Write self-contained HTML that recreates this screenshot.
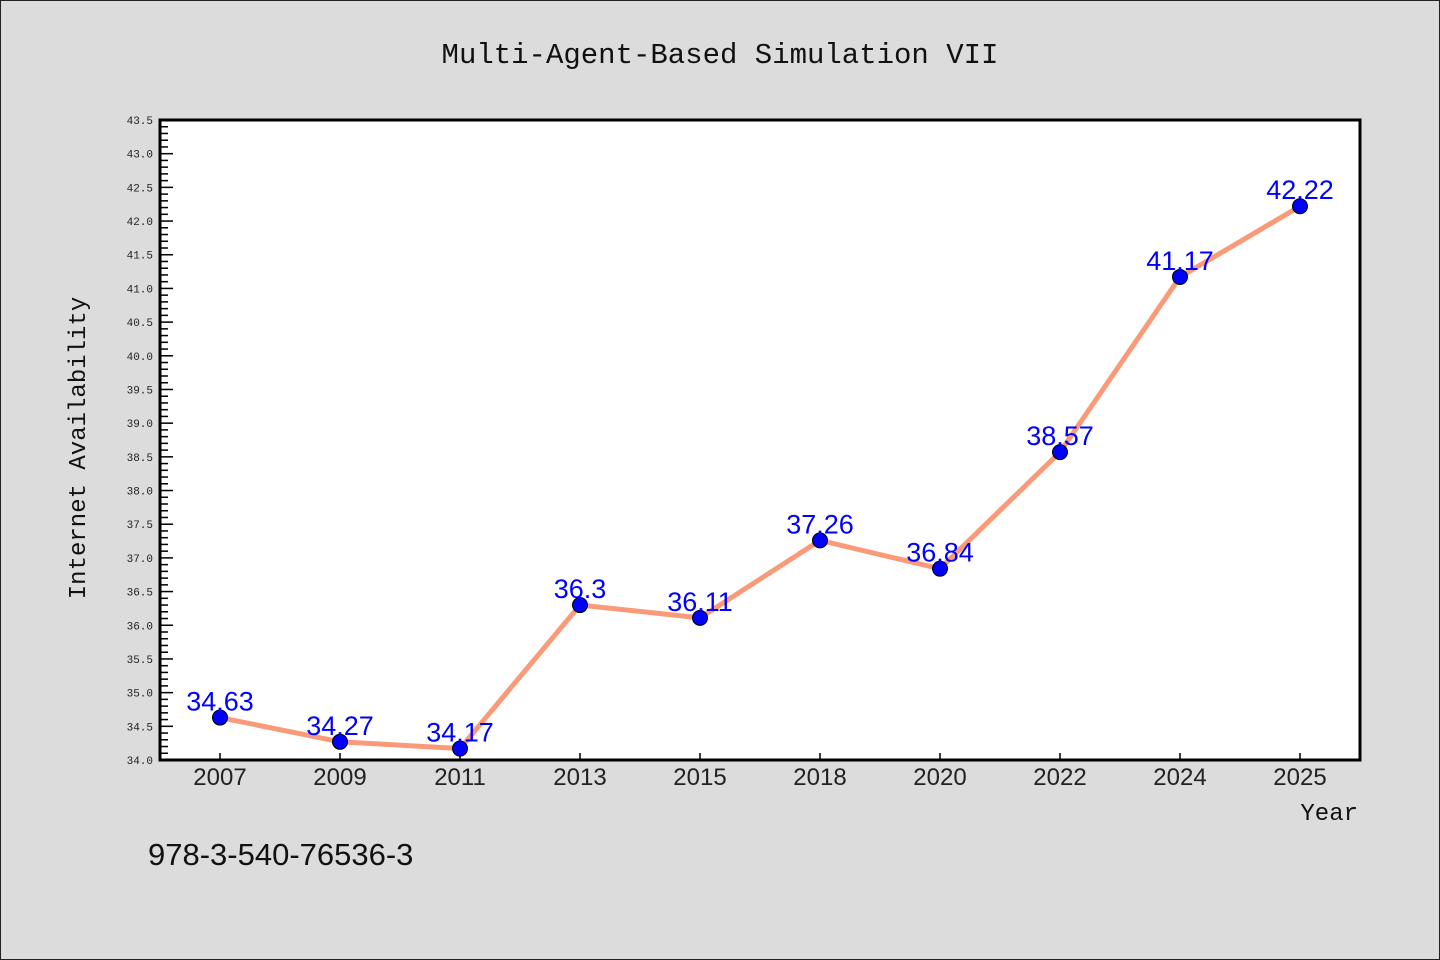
<!DOCTYPE html>
<html><head><meta charset="utf-8"><style>
body{margin:0;background:#dcdcdc}
svg{display:block}
text{font-family:"Liberation Mono","DejaVu Sans Mono",monospace}
</style></head><body>
<svg id="c" width="1440" height="960" xmlns="http://www.w3.org/2000/svg">
<rect x="0.5" y="0.5" width="1439" height="959" fill="#dcdcdc" stroke="#222"/>
<text x="720" y="63" text-anchor="middle" font-size="29" fill="#111">Multi-Agent-Based Simulation VII</text>
<rect x="160" y="120" width="1200" height="640" fill="#fff"/>
<g id="ticks"></g>
<g id="series"></g>
<rect x="160" y="120" width="1200" height="640" fill="none" stroke="#000" stroke-width="3"/>
<text transform="translate(85,448) rotate(-90)" text-anchor="middle" font-size="24" fill="#111">Internet Availability</text>
<text x="1358" y="820" text-anchor="end" font-size="24" fill="#111">Year</text>
<text x="148" y="865" font-family="Liberation Sans,sans-serif" font-size="31" fill="#111" style="font-family:'Liberation Sans',sans-serif">978-3-540-76536-3</text>
</svg>
<script>
const categories=["2007","2009","2011","2013","2015","2018","2020","2022","2024","2025"];
const values=[34.63,34.27,34.17,36.3,36.11,37.26,36.84,38.57,41.17,42.22];
const yMin=34.0,yMax=43.5;
const NS="http://www.w3.org/2000/svg";
const X0=160,W=1200,Y0=120,H=640;
function xs(i){return X0+60+i*120;}
function ys(v){return Y0+H-(v-yMin)/(yMax-yMin)*H;}
function mk(tag,attrs,parent){const e=document.createElementNS(NS,tag);for(const k in attrs)e.setAttribute(k,attrs[k]);parent.appendChild(e);return e;}
const tg=document.getElementById('ticks');
for(let k=0;k<=95;k++){
  const v=yMin+k*0.1;const y=ys(v);const major=k%5===0;
  const t=mk('line',{x1:160,x2:160+(major?13:8),y1:y,y2:y,stroke:'#000','stroke-width':1.5},tg);
  
  
  if(major){
    const l=mk('text',{x:153,y:y+4,'text-anchor':'end','font-size':11,fill:'#222'},tg);
    
    
    l.textContent=v.toFixed(1);
  }
}
categories.forEach((c,i)=>{
  const x=xs(i);
  const t=mk('line',{x1:x,x2:x,y1:760,y2:753,stroke:'#000','stroke-width':1.5},tg);
  
  
  const l=mk('text',{x:x,y:785,'text-anchor':'middle','font-size':24,fill:'#222',style:"font-family:'Liberation Sans',sans-serif"},tg);
  
  
  l.textContent=c;
});
const sg=document.getElementById('series');
const pl=mk('polyline',{points:values.map((v,i)=>xs(i)+','+ys(v)).join(' '),fill:'none',stroke:'#fa9a78','stroke-width':5,'stroke-linejoin':'round'},sg);


values.forEach((v,i)=>{
  const p=mk('circle',{cx:xs(i),cy:ys(v),r:7.5,fill:'#0000ff',stroke:'#000','stroke-width':1},sg);
  
  
  const l=mk('text',{x:xs(i),y:ys(v)-7,'text-anchor':'middle','font-size':27,fill:'#0000ff',style:"font-family:'Liberation Sans',sans-serif"},sg);
  
  
  l.textContent=String(v);
});
</script>
</body></html>
